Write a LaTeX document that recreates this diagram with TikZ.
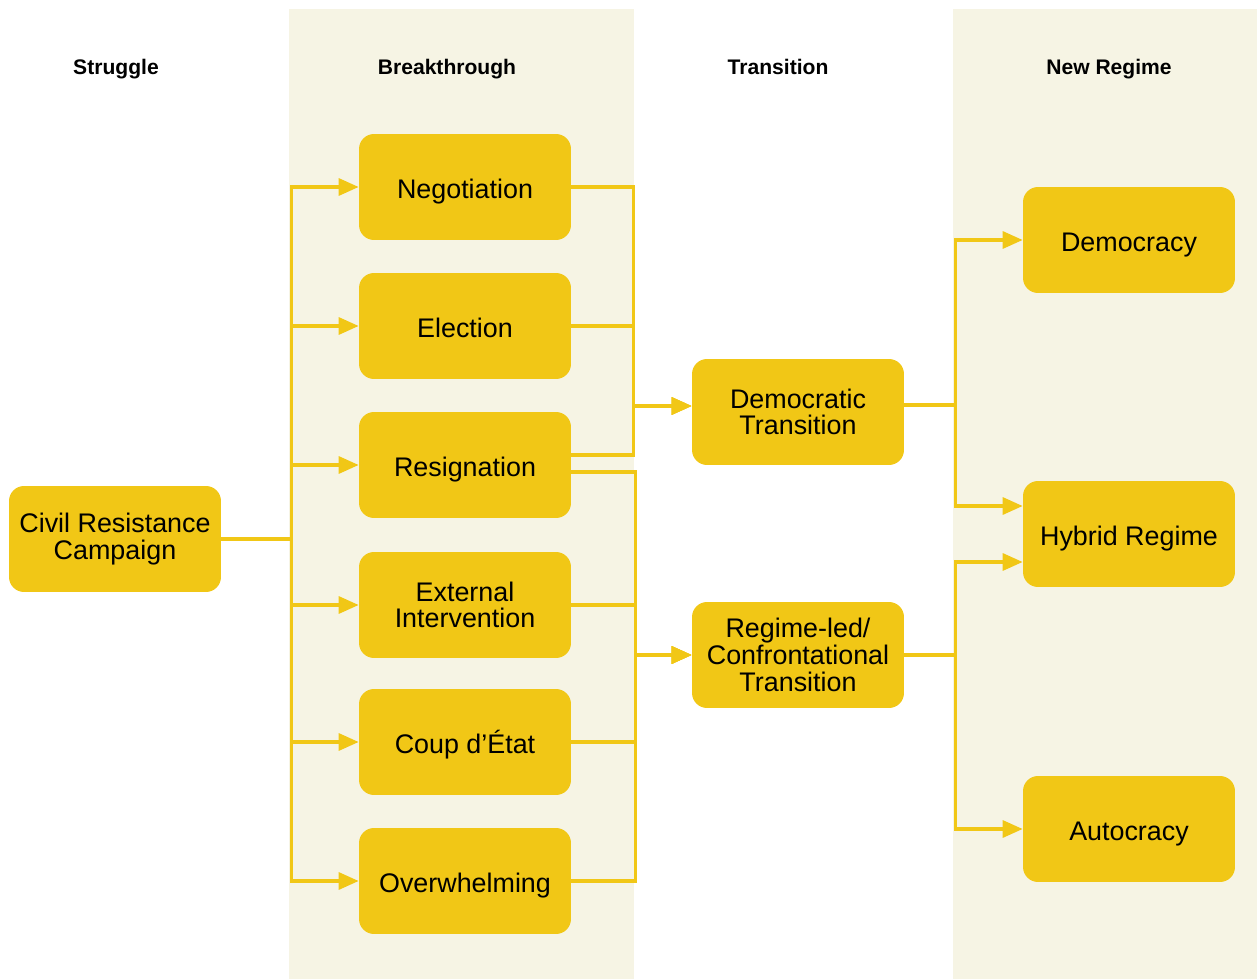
\documentclass[tikz,border=0pt]{standalone}
\usepackage{fontspec}
\setmainfont{Liberation Sans}
\usetikzlibrary{arrows.meta,positioning}
\definecolor{stageyellow}{RGB}{241,199,22}
\definecolor{bandcream}{RGB}{246,244,228}
\tikzstyle{stage}=[rectangle, rounded corners=0.3cm, fill=stageyellow, minimum width=4.24cm, minimum height=2.12cm, align=center, inner sep=2pt, font=\fontsize{15.3}{15.2}\selectfont]
\tikzstyle{oneline}=[text height=13.5pt, text depth=0pt]
\tikzstyle{head}=[anchor=base, font=\fontsize{12}{14}\selectfont\bfseries]
\tikzstyle{link}=[draw=stageyellow, line width=1.8pt, -{Triangle[length=0.4cm,width=0.34cm]}]
\tikzstyle{band}=[fill=bandcream]

\begin{document}
\begin{tikzpicture}[x=0.02cm, y=-0.02cm]
        \useasboundingbox (0,0) rectangle (1257,979);
        % shaded columns
        \fill[band] (289,9) rectangle (634,979);
        \fill[band] (953,9) rectangle (1257,979);
        %
        \node[head] (hstr) at (116,75) {Struggle};
        \node[head] (hbrk) at (447,75) {Breakthrough};
        \node[head] (htra) at (778,75) {Transition};
        \node[head] (hreg) at (1109,75) {New Regime};
        %
        \node[stage] (crc) at (115,539) {Civil Resistance\\Campaign};
        %
        \node[stage, oneline] (neg) at (465,187) {Negotiation};
        \node[stage, oneline] (ele) at (465,326) {Election};
        \node[stage, oneline] (res) at (465,465) {Resignation};
        \node[stage] (ext) at (465,605) {External\\Intervention};
        \node[stage, oneline] (coup) at (465,742) {Coup d’État};
        \node[stage, oneline] (over) at (465,881) {Overwhelming};
        %
        \node[stage] (dem) at (798,412) {Democratic\\Transition};
        \node[stage] (rlc) at (798,655) {Regime-led/\\Confrontational\\Transition};
        %
        \node[stage, oneline] (demo) at (1129,240) {Democracy};
        \node[stage, oneline] (hyb) at (1129,534) {Hybrid Regime};
        \node[stage, oneline] (auto) at (1129,829) {Autocracy};
        %
        \foreach \n in {neg,ele,res,ext,coup,over}
          \draw[link] (crc.east) -- ++(70,0) |- (\n.west);
        %
        \foreach \n in {neg,ele}
          \draw[link] (\n.east) -- ++(62,0) |- ([yshift=0.12cm]dem.west);
        \draw[link] ([yshift=0.2cm]res.east) -- ++(62,0) |- ([yshift=0.12cm]dem.west);
        \draw[link] ([yshift=-0.14cm]res.east) -- ++(64,0) |- (rlc.west);
        \foreach \n in {ext,coup,over}
          \draw[link] (\n.east) -- ++(64,0) |- (rlc.west);
        %
        \draw[link] ([yshift=0.14cm]dem.east) -- ++(51,0) |- (demo.west);
        \draw[link] ([yshift=0.14cm]dem.east) -- ++(51,0) |- ([yshift=0.56cm]hyb.west);
        \draw[link] (rlc.east) -- ++(51,0) |- ([yshift=-0.56cm]hyb.west);
        \draw[link] (rlc.east) -- ++(51,0) |- (auto.west);
      \end{tikzpicture}
\end{document}
